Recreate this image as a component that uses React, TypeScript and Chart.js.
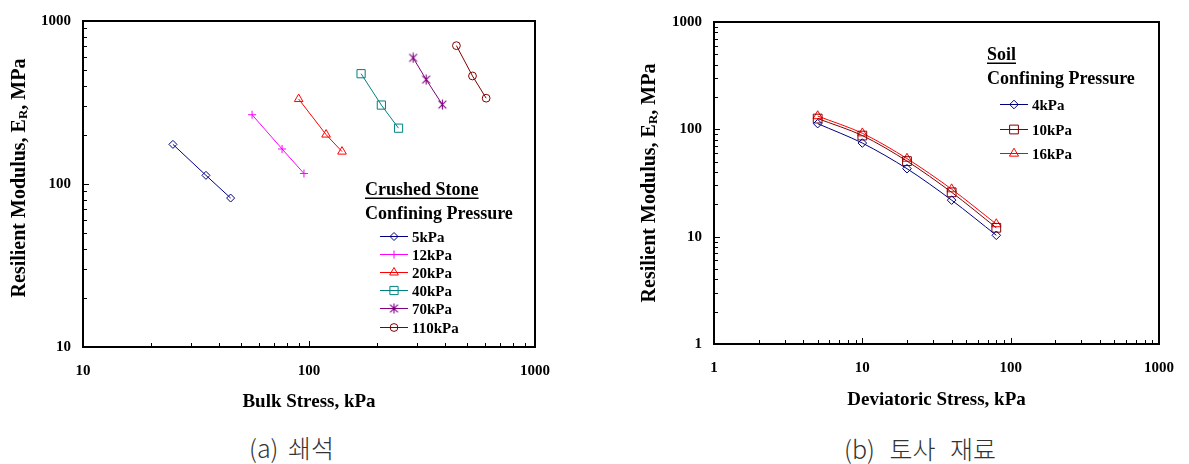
import React, { useEffect, useRef } from 'react';
import { Chart, registerables } from 'chart.js';
import { drawPoint } from 'chart.js/helpers';

Chart.register(...registerables);

const SERIF = "'Liberation Serif', 'Times New Roman', serif";

// ---------- (a) Crushed stone : bulk stress (kPa) vs resilient modulus (MPa)
const STONE_LABELS = ['5kPa', '12kPa', '20kPa', '40kPa', '70kPa', '110kPa'];
const stone5X = [25, 35, 45];
const stone5Y = [175, 113, 82];
const stone12X = [56, 76, 95];
const stone12Y = [266, 164, 116];
const stone20X = [90, 119, 140];
const stone20Y = [332, 201, 158];
const stone40X = [170, 209, 249];
const stone40Y = [475, 305, 220];
const stone70X = [289, 330, 389];
const stone70Y = [594, 437, 307];
const stone110X = [449, 529, 608];
const stone110Y = [706, 460, 336];
const STONE_X_TICKS = [10, 100, 1000];
const STONE_Y_TICKS = [10, 100, 1000];

// ---------- (b) Soil : deviatoric stress (kPa) vs resilient modulus (MPa)
const SOIL_LABELS = ['4kPa', '10kPa', '16kPa'];
const deviatoricStress = [5, 10, 20, 40, 80];
const soil4Y = [113, 74.5, 43, 21.9, 10.3];
const soil10Y = [126, 87.5, 50.6, 25.9, 12.1];
const soil16Y = [133, 92, 53.4, 27.7, 13.1];
const SOIL_X_TICKS = [1, 10, 100, 1000];
const SOIL_Y_TICKS = [1, 10, 100, 1000];

const MINOR_STEPS = [1, 2, 3, 4, 5, 6, 7, 8, 9];

function makeAsterisk(color: string, size: number) {
  const c = document.createElement('canvas');
  c.width = size;
  c.height = size;
  const g = c.getContext('2d')!;
  g.strokeStyle = color;
  g.lineWidth = 1.1;
  const m = size / 2;
  const r = size / 2 - 0.5;
  const d = r * 0.78;
  g.beginPath();
  g.moveTo(m, m - r);
  g.lineTo(m, m + r);
  g.moveTo(m - d, m - d);
  g.lineTo(m + d, m + d);
  g.moveTo(m + d, m - d);
  g.lineTo(m - d, m + d);
  g.stroke();
  return c;
}

function pts(xs: number[], ys: number[]) {
  return xs.map((x, i) => ({ x, y: ys[i] }));
}

const decorPlugin = {
  id: 'decor',
  afterDraw(chart: any, _args: any, opts: any) {
    const { ctx, chartArea: a, scales } = chart;
    const xs = scales.x;
    const ys = scales.y;
    ctx.save();
    ctx.strokeStyle = '#000';
    ctx.lineWidth = 1;
    // inside tick marks
    const drawTicks = (scale: any, horizontal: boolean) => {
      const lo = Math.floor(Math.log10(scale.min));
      const hi = Math.ceil(Math.log10(scale.max));
      for (let k = lo; k <= hi; k++) {
        for (const m of MINOR_STEPS) {
          const v = m * Math.pow(10, k);
          if (v < scale.min * 0.999 || v > scale.max * 1.001) continue;
          const len = m === 1 ? 6 : 4;
          const p = Math.round(scale.getPixelForValue(v)) + 0.5;
          ctx.beginPath();
          if (horizontal) {
            ctx.moveTo(p, a.bottom);
            ctx.lineTo(p, a.bottom - len);
          } else {
            ctx.moveTo(a.left, p);
            ctx.lineTo(a.left + len, p);
          }
          ctx.stroke();
        }
      }
    };
    drawTicks(xs, true);
    drawTicks(ys, false);
    // frame
    ctx.lineWidth = 2;
    ctx.strokeRect(a.left, a.top, a.right - a.left, a.bottom - a.top);

    // x title
    ctx.fillStyle = '#000';
    ctx.font = `bold 19px ${SERIF}`;
    ctx.textAlign = 'center';
    ctx.textBaseline = 'alphabetic';
    ctx.fillText(opts.xTitle, (a.left + a.right) / 2, opts.xTitleY);

    // y title with subscript
    ctx.save();
    ctx.translate(opts.yTitleX, opts.yTitleCY);
    ctx.rotate(-Math.PI / 2);
    const f1 = `bold 20px ${SERIF}`;
    const f2 = `bold 13px ${SERIF}`;
    const p1 = 'Resilient Modulus, E';
    const sub = 'R';
    const p2 = ', MPa';
    ctx.font = f1;
    const w1 = ctx.measureText(p1).width;
    const w3 = ctx.measureText(p2).width;
    ctx.font = f2;
    const w2 = ctx.measureText(sub).width;
    const start = -(w1 + w2 + w3) / 2;
    ctx.textAlign = 'left';
    ctx.font = f1;
    ctx.fillText(p1, start, 0);
    ctx.font = f2;
    ctx.fillText(sub, start + w1, 2);
    ctx.font = f1;
    ctx.fillText(p2, start + w1 + w2, 0);
    ctx.restore();

    // legend
    const L = opts.legend;
    ctx.textAlign = 'left';
    ctx.font = `bold 18px ${SERIF}`;
    ctx.fillText(L.title, L.x, L.titleY);
    const tw = ctx.measureText(L.title).width;
    ctx.fillRect(L.x, L.titleY + 2.5, tw, 1.5);
    ctx.fillText(L.subtitle, L.x, L.subY);
    chart.data.datasets.forEach((ds: any, i: number) => {
      const cy = Math.round(L.firstY + i * L.step) + 0.5;
      ctx.strokeStyle = ds.borderColor;
      ctx.lineWidth = 1;
      ctx.beginPath();
      ctx.moveTo(L.lineX0, cy);
      ctx.lineTo(L.lineX1, cy);
      ctx.stroke();
      ctx.fillStyle = 'rgba(0,0,0,0)';
      drawPoint(ctx, { pointStyle: ds.pointStyle, radius: ds.pointRadius, rotation: 0, borderWidth: 1 } as any, (L.lineX0 + L.lineX1) / 2, cy);
      ctx.fillStyle = '#000';
      ctx.font = `bold 15px ${SERIF}`;
      ctx.fillText(ds.label, L.textX, cy + 5);
    });
    ctx.restore();
  },
};

function logAxis(position: string, min: number, max: number, tickValues: number[], fit: number, padding: number) {
  return {
    type: 'logarithmic',
    position,
    min,
    max,
    grid: { display: false, drawTicks: false },
    border: { display: false },
    ticks: {
      autoSkip: false,
      maxRotation: 0,
      minRotation: 0,
      padding,
      color: '#000',
      font: { family: SERIF, size: 15, weight: 'bold' },
      callback: (v: any) => String(v),
    },
    afterBuildTicks: (s: any) => {
      s.ticks = tickValues.map((v) => ({ value: v }));
    },
    afterFit: (s: any) => {
      if (position === 'bottom') s.height = fit;
      else s.width = fit;
    },
  };
}

function lineDs(label: string, data: any[], color: string, pointStyle: any, radius: number, tension = 0) {
  return {
    label,
    data,
    showLine: true,
    borderColor: color,
    borderWidth: 1,
    backgroundColor: color,
    pointStyle,
    pointRadius: radius,
    pointBorderWidth: 1,
    pointBorderColor: color,
    pointBackgroundColor: 'rgba(0,0,0,0)',
    tension,
  };
}

function stoneConfig(): any {
  const star = makeAsterisk('#800080', 11);
  return {
    type: 'scatter',
    data: {
      datasets: [
        lineDs(STONE_LABELS[0], pts(stone5X, stone5Y), '#000080', 'rectRot', 4),
        lineDs(STONE_LABELS[1], pts(stone12X, stone12Y), '#FF00FF', 'cross', 4),
        lineDs(STONE_LABELS[2], pts(stone20X, stone20Y), '#FF0000', 'triangle', 5),
        lineDs(STONE_LABELS[3], pts(stone40X, stone40Y), '#008080', 'rect', 5.8),
        lineDs(STONE_LABELS[4], pts(stone70X, stone70Y), '#800080', star, 5),
        lineDs(STONE_LABELS[5], pts(stone110X, stone110Y), '#800000', 'circle', 3.9),
      ],
    },
    options: {
      responsive: false,
      animation: false,
      devicePixelRatio: 1,
      layout: { padding: { left: 0, top: 13, right: 55, bottom: 0 } },
      scales: {
        x: logAxis('bottom', 10, 1000, STONE_X_TICKS, 73, 15),
        y: logAxis('left', 10, 1000, STONE_Y_TICKS, 83, 12),
      },
      plugins: {
        legend: { display: false },
        tooltip: { enabled: false },
        decor: {
          xTitle: 'Bulk Stress, kPa',
          xTitleY: 407,
          yTitleX: 25,
          yTitleCY: 178,
          legend: {
            title: 'Crushed Stone',
            subtitle: 'Confining Pressure',
            x: 365,
            titleY: 195,
            subY: 219,
            firstY: 236,
            step: 18.1,
            lineX0: 380,
            lineX1: 408,
            textX: 412,
          },
        },
      },
    },
    plugins: [decorPlugin],
  };
}

function soilConfig(): any {
  return {
    type: 'scatter',
    data: {
      datasets: [
        lineDs(SOIL_LABELS[0], pts(deviatoricStress, soil4Y), '#000080', 'rectRot', 4.3, 0.3),
        lineDs(SOIL_LABELS[1], pts(deviatoricStress, soil10Y), '#800000', 'rect', 6.2, 0.3),
        lineDs(SOIL_LABELS[2], pts(deviatoricStress, soil16Y), '#FF0000', 'triangle', 5.3, 0.3),
      ],
    },
    options: {
      responsive: false,
      animation: false,
      devicePixelRatio: 1,
      layout: { padding: { left: 0, top: 22, right: 24, bottom: 0 } },
      scales: {
        x: logAxis('bottom', 1, 1000, SOIL_X_TICKS, 76, 15),
        y: logAxis('left', 1, 1000, SOIL_Y_TICKS, 114, 12),
      },
      plugins: {
        legend: { display: false },
        tooltip: { enabled: false },
        decor: {
          xTitle: 'Deviatoric Stress, kPa',
          xTitleY: 405,
          yTitleX: 55,
          yTitleCY: 183,
          legend: {
            title: 'Soil',
            subtitle: 'Confining Pressure',
            x: 387,
            titleY: 60,
            subY: 84,
            firstY: 104.3,
            step: 24.2,
            lineX0: 400,
            lineX1: 428,
            textX: 432,
          },
        },
      },
    },
    plugins: [decorPlugin],
  };
}

function ChartCanvas({ make, left, width, height }: { make: () => any; left: number; width: number; height: number }) {
  const ref = useRef<HTMLCanvasElement>(null);
  useEffect(() => {
    const chart = new Chart(ref.current!, make());
    return () => chart.destroy();
  }, []);
  return (
    <canvas
      ref={ref}
      width={width}
      height={height}
      style={{ position: 'absolute', left, top: 0, width, height }}
    />
  );
}

const captionStyle: React.CSSProperties = {
  position: 'absolute',
  transform: 'translate(-50%, -50%)',
  fontFamily: "'Noto Sans CJK KR', sans-serif",
  fontSize: 25,
  lineHeight: '25px',
  whiteSpace: 'nowrap',
  color: '#333',
  fontWeight: 300,
};

export default function App() {
  return (
    <div style={{ position: 'fixed', left: 0, top: 0, width: 1189, height: 464, background: '#fff', overflow: 'hidden' }}>
      <ChartCanvas make={stoneConfig} left={0} width={590} height={420} />
      <ChartCanvas make={soilConfig} left={600} width={589} height={420} />
      <div style={{ ...captionStyle, left: 291.5, top: 447, wordSpacing: 4 }}>(a) 쇄석</div>
      <div style={{ ...captionStyle, left: 920, top: 448, wordSpacing: 9 }}>(b) 토사 재료</div>
    </div>
  );
}
